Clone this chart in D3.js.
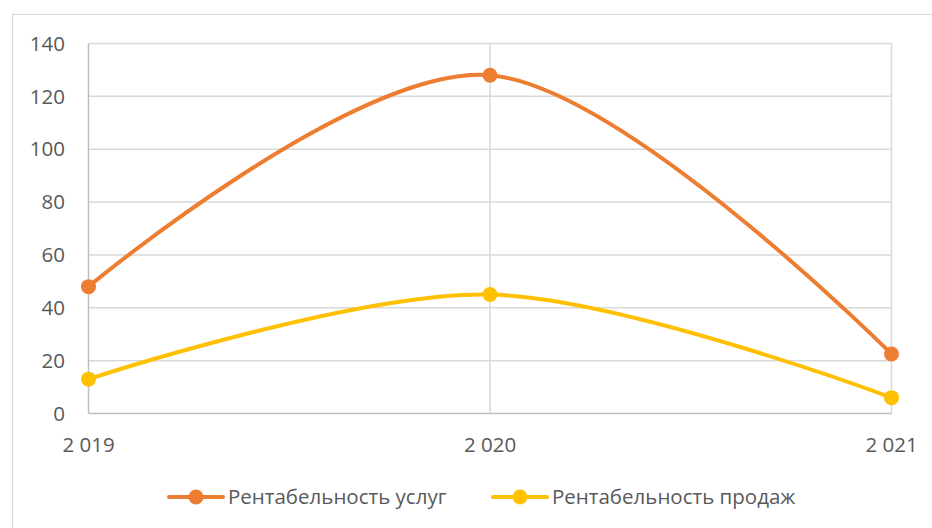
<!DOCTYPE html>
<html>
<head>
<meta charset="utf-8">
<script src="https://cdn.jsdelivr.net/npm/d3@7"></script>
<style>
  body { margin: 0; background: #fff; }
  text { font-family: "Open Sans", sans-serif; fill: #595959; }
</style>
</head>
<body>
<svg id="chart" width="932" height="528"></svg>
<script>
// chart data
var years = ["2 019", "2 020", "2 021"];
var uslugi = [48, 128, 22.5];
var prodazhi = [13, 45, 6];
var yTicks = [0, 20, 40, 60, 80, 100, 120, 140];
var seriesNames = ["Рентабельность услуг", "Рентабельность продаж"];
var seriesColors = ["#ed7d31", "#ffc000"];

var svg = d3.select("#chart");

// outer frame of the chart area
svg.append("rect")
  .attr("x", 12.5).attr("y", 14.5)
  .attr("width", 940).attr("height", 540)
  .attr("fill", "none").attr("stroke", "#d9d9d9").attr("stroke-width", 1);

// plot box (window.top is reserved, so names are prefixed)
var plotLeft = 88.5, plotRight = 891.5, plotTop = 43.5, plotBottom = 413.5;

var x = d3.scalePoint().domain(years).range([plotLeft, plotRight]);
var y = d3.scaleLinear().domain([0, 140]).range([plotBottom, plotTop]);

// horizontal grid
svg.append("g").selectAll("line")
  .data(yTicks.slice(1))
  .enter().append("line")
  .attr("x1", plotLeft).attr("x2", plotRight)
  .attr("y1", function(d) { return y(d); })
  .attr("y2", function(d) { return y(d); })
  .attr("stroke", "#d9d9d9").attr("stroke-width", 1.5);

// vertical grid
svg.append("g").selectAll("line")
  .data(years)
  .enter().append("line")
  .attr("x1", function(d) { return x(d); })
  .attr("x2", function(d) { return x(d); })
  .attr("y1", plotTop).attr("y2", plotBottom)
  .attr("stroke", function(d, i) { return i == 0 ? "#bfbfbf" : "#d9d9d9"; })
  .attr("stroke-width", 1.5);

// x axis line
svg.append("line")
  .attr("x1", plotLeft).attr("x2", plotRight)
  .attr("y1", plotBottom).attr("y2", plotBottom)
  .attr("stroke", "#bfbfbf").attr("stroke-width", 1.5);

// y tick labels
svg.append("g").selectAll("text")
  .data(yTicks)
  .enter().append("text")
  .attr("x", 65)
  .attr("y", function(d) { return y(d); })
  .attr("dy", "0.35em")
  .attr("text-anchor", "end")
  .attr("font-size", "20.5px")
  .text(function(d) { return d; });

// x tick labels
svg.append("g").selectAll("text")
  .data(years)
  .enter().append("text")
  .attr("x", function(d) { return x(d); })
  .attr("y", 452)
  .attr("text-anchor", "middle")
  .attr("font-size", "20.5px")
  .text(function(d) { return d; });

var line = d3.line()
  .x(function(d, i) { return x(years[i]); })
  .y(function(d) { return y(d); })
  .curve(d3.curveCatmullRom.alpha(0));

[uslugi, prodazhi].forEach(function(vals, s) {
  svg.append("path")
    .datum(vals)
    .attr("d", line)
    .attr("fill", "none")
    .attr("stroke", seriesColors[s])
    .attr("stroke-width", 4)
    .attr("stroke-linecap", "round");

  svg.append("g").selectAll("circle")
    .data(vals)
    .enter().append("circle")
    .attr("cx", function(d, i) { return x(years[i]); })
    .attr("cy", function(d) { return y(d); })
    .attr("r", 7.5)
    .attr("fill", seriesColors[s]);
});

// legend
var legendX = [169, 493];
var legend = svg.append("g").selectAll("g")
  .data(seriesNames)
  .enter().append("g")
  .attr("transform", function(d, i) { return "translate(" + legendX[i] + ",497)"; });

legend.append("line")
  .attr("x1", 0).attr("x2", 54)
  .attr("stroke", function(d, i) { return seriesColors[i]; })
  .attr("stroke-width", 4)
  .attr("stroke-linecap", "round");

legend.append("circle")
  .attr("cx", 27).attr("r", 7.5)
  .attr("fill", function(d, i) { return seriesColors[i]; });

legend.append("text")
  .attr("x", 59)
  .attr("dy", "0.35em")
  .attr("font-size", "20.5px")
  .text(function(d) { return d; });
</script>
</body>
</html>
